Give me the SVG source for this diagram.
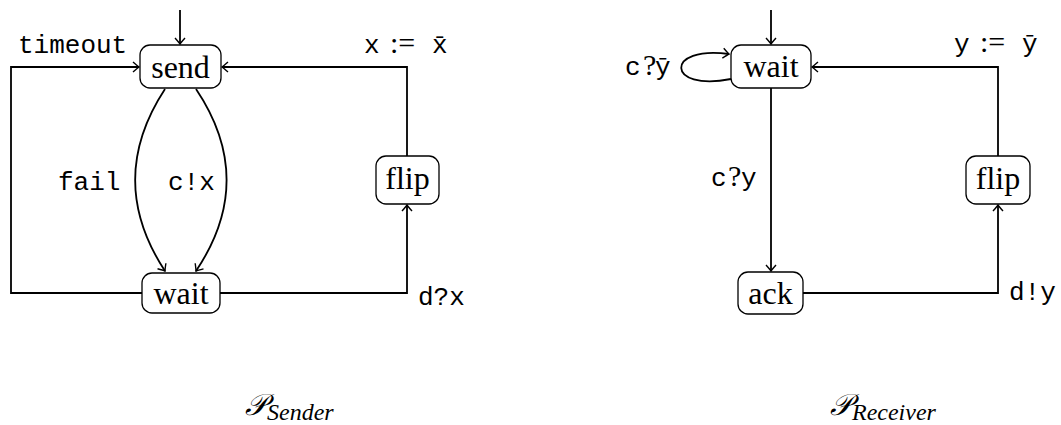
<svg xmlns="http://www.w3.org/2000/svg" width="1061" height="425" viewBox="0 0 1061 425">
<defs>
<marker id="arr" markerWidth="12" markerHeight="12" refX="0" refY="0" viewBox="-7 -6 8 12" orient="auto" markerUnits="userSpaceOnUse">
<path d="M-6,-5 Q-1.5,-1 0,0 Q-1.5,1 -6,5" fill="none" stroke="#000" stroke-width="1.4"/>
</marker>
<style>
.box{fill:#fff;stroke:#000;stroke-width:1.3}
.lab{font-family:"Liberation Serif","DejaVu Serif",serif;font-size:32px;text-anchor:middle}
.tt{font-family:"Liberation Mono","DejaVu Sans Mono",monospace;font-size:26px}
.rm{font-family:"Liberation Serif","DejaVu Serif",serif;font-size:30px}
.e{fill:none;stroke:#000;stroke-width:1.8;marker-end:url(#arr)}
.cap{font-family:"Liberation Serif","DejaVu Serif",serif;font-style:italic}
</style>
</defs>
<rect width="1061" height="425" fill="#fff"/>
<g id="connectors">
<path class="e" d="M180,10 V44"/>
<path class="e" d="M142,293 H11 V67 H139"/>
<path class="e" d="M165,89 C125,150 125,210 165,271"/>
<path class="e" d="M196,89 C237,150 237,210 196,271"/>
<path class="e" d="M220,293 H407 V205"/>
<path class="e" d="M407,156 V67 H222"/>
<path class="e" d="M771,10 V44"/>
<path class="e" d="M731,79 C665,92 665,45 729,54"/>
<path class="e" d="M771,88 V271"/>
<path class="e" d="M803,293 H998 V205"/>
<path class="e" d="M998,156 V67 H812"/>
</g>
<g id="send"><rect class="box" x="140" y="45" width="81" height="43" rx="10"/><text class="lab" x="180.5" y="78">send</text></g>
<g id="wait1"><rect class="box" x="142" y="273" width="78" height="40" rx="10"/><text class="lab" x="181" y="304">wait</text></g>
<g id="flip1"><rect class="box" x="376" y="156" width="63" height="48" rx="10"/><text class="lab" x="407.5" y="189">flip</text></g>
<g id="wait2"><rect class="box" x="731" y="45" width="80" height="43" rx="10"/><text class="lab" x="771" y="77">wait</text></g>
<g id="ack"><rect class="box" x="738" y="272" width="65" height="42" rx="10"/><text class="lab" x="770.5" y="304">ack</text></g>
<g id="flip2"><rect class="box" x="966" y="156" width="64" height="48" rx="10"/><text class="lab" x="998" y="189">flip</text></g>
<g id="labels">
<text class="tt" x="18" y="53">timeout</text>
<text y="53"><tspan class="tt" x="364">x</tspan><tspan class="rm" x="390">:=</tspan><tspan class="tt" x="432">x̄</tspan></text>
<text class="tt" x="58" y="190">fail</text>
<text class="tt" x="168" y="190">c!x</text>
<text class="tt" x="418" y="305">d?x</text>
<text y="75"><tspan class="tt" x="625">c</tspan><tspan class="rm" x="643">?</tspan><tspan class="tt" x="655">ȳ</tspan></text>
<text y="186"><tspan class="tt" x="711">c</tspan><tspan class="rm" x="728">?</tspan><tspan class="tt" x="741">y</tspan></text>
<text y="52"><tspan class="tt" x="954">y</tspan><tspan class="rm" x="980">:=</tspan><tspan class="tt" x="1022">ȳ</tspan></text>
<text class="tt" x="1009" y="300">d!y</text>
</g>
<g id="captions">
<text x="245" y="415" class="cap" font-size="30">𝒫<tspan font-size="24" dy="5">Sender</tspan></text>
<text x="830" y="415" class="cap" font-size="30">𝒫<tspan font-size="24" dy="5">Receiver</tspan></text>
</g>
</svg>
